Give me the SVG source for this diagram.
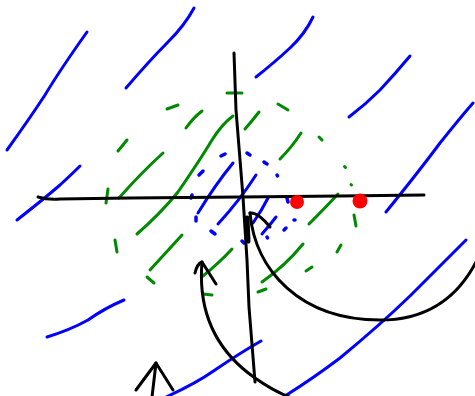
<svg xmlns="http://www.w3.org/2000/svg" width="475" height="396" viewBox="0 0 475 396">
<style>
.b{fill:none;stroke:#0000ff;stroke-width:3;stroke-linecap:round;stroke-linejoin:round}
.bd{fill:none;stroke:#0000ff;stroke-width:3.5;stroke-linecap:round}
.g{fill:none;stroke:#008a00;stroke-width:3;stroke-linecap:round;stroke-linejoin:round}
.k{fill:none;stroke:#000;stroke-width:3;stroke-linecap:round;stroke-linejoin:round}
.r{fill:#ff0000}
</style>
<rect width="475" height="396" fill="#fff"/>
<g id="blue-hatch">
<path class="b" d="M7,150 Q30,118 45,95 Q60,70 87,32"/>
<path class="b" d="M126,88 Q150,60 168,42 Q185,25 194,8"/>
<path class="b" d="M256,77 Q275,62 290,48 Q305,34 313,17"/>
<path class="b" d="M349,117 Q365,105 380,90 Q395,74 410,56"/>
<path class="b" d="M386,212 Q420,170 440,143 Q460,118 473,103"/>
<path class="b" d="M17,220 Q45,198 60,185 Q72,174 80,166"/>
<path class="b" d="M47,337 Q70,330 88,320 Q105,308 124,300"/>
<path class="b" d="M166,397 Q195,384 215,370 Q240,353 261,341"/>
<path class="b" d="M285,396 Q315,377 340,358 Q380,325 410,296 Q440,266 466,240"/>
<path class="b" d="M198,213 Q215,185 233,163"/>
<path class="b" d="M218,224 Q240,200 256,175"/>
<path class="b" d="M253,223 Q262,210 268,198"/>
<path class="b" d="M262,234 Q270,225 276,217"/>
</g>
<g id="blue-dots">
<path class="bd" d="M221,156 L225,154"/>
<path class="bd" d="M247,153 L250,155"/>
<path class="bd" d="M264,162 L267,164"/>
<path class="bd" d="M277,175 L277.5,176"/>
<path class="bd" d="M199,175 L203,171"/>
<path class="bd" d="M191,198 L192,195"/>
<path class="bd" d="M196,217 L196,221"/>
<path class="bd" d="M211,231 L215,234"/>
<path class="bd" d="M242,241 L244,243"/>
<path class="bd" d="M267,237 L267.5,238"/>
<path class="bd" d="M284,230 L286,228"/>
<path class="bd" d="M294,220 L295,220"/>
<path class="bd" d="M287,198 L288,202"/>
</g>
<g id="green-hatch">
<path class="g" d="M227,93 L242,93"/>
<path class="g" d="M167,109 L178,105"/>
<path class="g" d="M186,128 Q193,118 202,111"/>
<path class="g" d="M278,104 L288,110"/>
<path class="g" d="M245,129 Q252,121 259,112"/>
<path class="g" d="M118,151 L127,140"/>
<path class="g" d="M319,137 L322,140"/>
<path class="g" d="M119,198 Q140,174 163,153"/>
<path class="g" d="M137,234 Q160,214 178,192 Q200,160 212,140 Q222,124 233,116"/>
<path class="g" d="M280,159 Q292,147 301,133"/>
<path class="g" d="M344.5,166.5 L345.5,167.5"/>
<path class="g" d="M351,184.5 L351.5,185"/>
<path class="g" d="M106,203 L108,189"/>
<path class="g" d="M309,224 Q325,208 338,194"/>
<path class="g" d="M354,215 L356,226"/>
<path class="g" d="M115,240 L117,252"/>
<path class="g" d="M150,270 L182,235"/>
<path class="g" d="M147,277 L154,283"/>
<path class="g" d="M203,276 Q220,262 232,249"/>
<path class="g" d="M203,294 L212,295"/>
<path class="g" d="M262,282 Q285,266 303,244"/>
<path class="g" d="M258,292 L266,289"/>
<path class="g" d="M306,271 L312,267"/>
<path class="g" d="M337,252 L341,245"/>
</g>
<g id="axes">
<path class="k" d="M38,197 Q48,200 60,199 L130,198 L240,197 L340,196 L424,195"/>
<path class="k" d="M234,53 L236,110 L243,197 L247,260 L249,307 L255,382"/>
</g>
<g id="points">
<circle class="r" cx="297" cy="202" r="7"/>
<circle class="r" cx="360" cy="201" r="7.5"/>
</g>
<g id="connectors">
<path class="k" d="M250,213 C255,270 300,320 380,320 C430,320 460,295 478,258"/>
<path class="k" d="M270,227 Q258,212 250,213"/>
<path class="k" style="stroke-width:5" d="M247,218 L248,241"/>
<path class="k" d="M202,262 C198,310 215,350 255,378 Q275,392 292,398"/>
<path class="k" d="M195,273 Q197,264 202,262 L216,284"/>
<path class="k" d="M152,397 L156,363"/>
<path class="k" d="M136,390 L156,363 L173,390"/>
</g>
</svg>
